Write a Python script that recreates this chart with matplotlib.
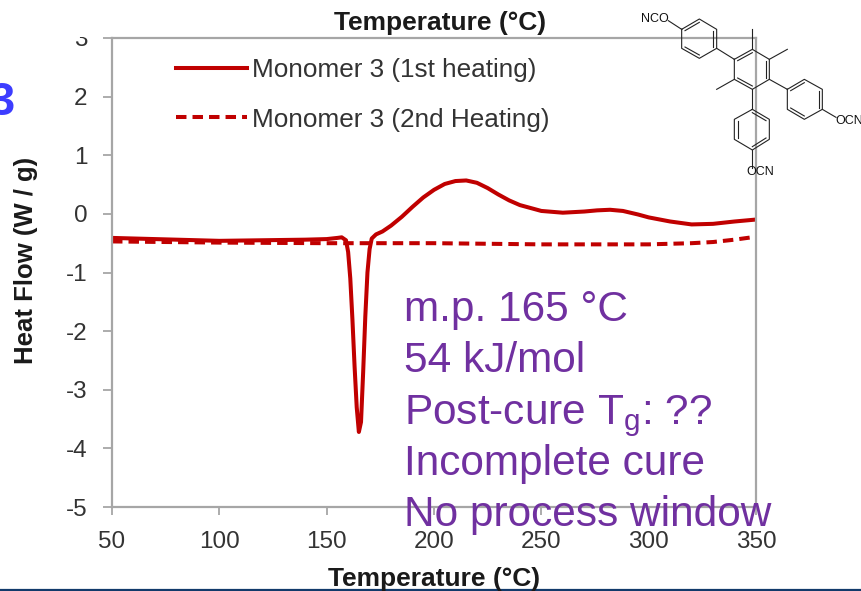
import matplotlib
matplotlib.use("Agg")
import matplotlib.pyplot as plt
from matplotlib.transforms import Bbox, TransformedBbox

plt.rcParams["font.family"] = ["Liberation Sans", "DejaVu Sans"]
plt.rcParams["mathtext.fontset"] = "custom"
plt.rcParams["mathtext.rm"] = "Liberation Sans"
plt.rcParams["axes.unicode_minus"] = False

# Values
temp_1st = [50, 60, 80, 100, 120, 140, 150, 155, 157, 159, 160, 161, 162, 163, 164, 165, 166, 167, 168, 169, 170,
            171, 173, 176, 180, 185, 190, 195, 200, 205, 210, 215, 220, 225, 230, 235, 240, 250, 260, 270, 276, 282,
            288, 295, 300, 310, 320, 330, 340, 349]
flow_1st = [-0.41, -0.42, -0.44, -0.46, -0.45, -0.44, -0.43, -0.41, -0.40, -0.45, -0.65, -1.1, -1.8, -2.6, -3.3, -3.72,
            -3.55, -2.7, -1.75, -1.0, -0.6, -0.42, -0.35, -0.30, -0.20, -0.05, 0.12, 0.28, 0.41, 0.51, 0.56, 0.57,
            0.53, 0.44, 0.33, 0.23, 0.15, 0.05, 0.02, 0.04, 0.06, 0.07, 0.05, -0.01, -0.06, -0.13, -0.18, -0.17,
            -0.13, -0.10]
temp_2nd = [50, 100, 150, 200, 250, 300, 320, 330, 340, 350]
flow_2nd = [-0.47, -0.49, -0.50, -0.50, -0.52, -0.52, -0.50, -0.48, -0.44, -0.39]
label_1st = "Monomer 3 (1st heating)"
label_2nd = "Monomer 3 (2nd Heating)"
x_ticks = [50, 100, 150, 200, 250, 300, 350]
y_ticks = [-5, -4, -3, -2, -1, 0, 1, 2, 3]
notes = ["m.p. 165 °C", "54 kJ/mol", "Post-cure T$_{\\mathrm{g}}$: ??", "Incomplete cure", "No process window"]
note_baselines = [321, 372, 424, 475, 526]

# Structure drawn in zoomed-crop pixels (crop origin 620,0, scale 3)
rings = [
    [(185, 88), (238, 57), (290, 88), (290, 145), (238, 175), (185, 145)],
    [(343, 178), (397, 148), (448, 178), (448, 238), (397, 268), (343, 238)],
    [(502, 268), (553, 238), (607, 268), (607, 328), (553, 358), (502, 328)],
    [(397, 328), (448, 358), (448, 418), (397, 450), (343, 418), (343, 358)],
]
bonds = [
    ((145, 62), (185, 88)), ((290, 145), (343, 178)), ((397, 148), (397, 88)), ((448, 178), (502, 148)),
    ((343, 238), (290, 268)), ((448, 238), (502, 268)), ((607, 328), (648, 352)), ((397, 268), (397, 328)),
    ((397, 450), (397, 505)),
]
inner_bonds = [
    ((195, 92), (238, 67)), ((280, 92), (280, 141)), ((195, 141), (238, 165)),
    ((353, 182), (397, 158)), ((438, 182), (438, 234)), ((353, 234), (397, 258)),
    ((512, 272), (553, 248)), ((597, 272), (597, 324)), ((512, 324), (553, 348)),
    ((397, 338), (438, 362)), ((438, 414), (397, 440)), ((353, 362), (353, 414)),
]

GREY = "#a6a6a6"
TEXT = "#333333"
RED = "#c00000"
PURPLE = "#7030a0"

fig = plt.figure(figsize=(8.61, 5.91), dpi=100)
ax = fig.add_axes([112 / 861, (591 - 507) / 591, (756 - 112) / 861, (507 - 38) / 591])

ax.plot(temp_1st, flow_1st, color=RED, lw=2.9, solid_joinstyle="round", label=label_1st)
ax.plot(temp_2nd, flow_2nd, color=RED, lw=2.9, ls=(0, (2.6, 1.5)), label=label_2nd)

ax.set_xlim(50, 350)
ax.set_ylim(-5, 3)
ax.set_xticks(x_ticks)
ax.set_yticks(y_ticks)
ax.tick_params(length=6.5, width=1.3, color=GREY, labelcolor=TEXT, labelsize=17.5, pad=11)
ax.tick_params(axis="x", length=6, pad=11)
for spine in ax.spines.values():
    spine.set_color(GREY)
    spine.set_linewidth(1.6)

# the "3" on the y axis is cut off at the top in the original
crop = TransformedBbox(Bbox([[0, 0], [1, (591 - 37) / 591]]), fig.transFigure)
for tick_label in ax.get_yticklabels():
    tick_label.set_clip_on(True)
    tick_label.set_clip_box(crop)

ax.legend(loc="upper left", bbox_to_anchor=((176 - 112) / 644, (507 - 58) / 469), frameon=False, fontsize=18.8,
          labelcolor=TEXT, handlelength=2.7, handletextpad=0.2, labelspacing=0.98, borderpad=0, borderaxespad=0)

# Overlay in picture pixels for the pasted-on slide items
over = fig.add_axes([0, 0, 1, 1], facecolor="none")
over.set_xlim(0, 861)
over.set_ylim(591, 0)
over.axis("off")

over.text(440, 23, "Temperature (°C)", ha="center", va="center", fontsize=19, fontweight="bold", color="#1a1a1a")
over.text(434, 579, "Temperature (°C)", ha="center", va="center", fontsize=19, fontweight="bold", color="#1a1a1a")
over.text(26, 260, "Heat Flow (W / g)", ha="center", va="center", rotation=90, fontsize=18.5, fontweight="bold",
          color="#1a1a1a")
over.text(15, 103, "3", ha="right", va="center", fontsize=34, fontweight="bold", color="#3d3dff")

for note, baseline in zip(notes, note_baselines):
    over.text(404, baseline, note, ha="left", va="baseline", fontsize=30.5, color=PURPLE)


def crop_xy(point):
    return 620 + point[0] / 3, point[1] / 3


for ring in rings:
    pts = [crop_xy(p) for p in ring + ring[:1]]
    over.plot([p[0] for p in pts], [p[1] for p in pts], color="#222222", lw=0.8)
for a, b in bonds + inner_bonds:
    a, b = crop_xy(a), crop_xy(b)
    over.plot([a[0], b[0]], [a[1], b[1]], color="#222222", lw=0.8)

over.text(*crop_xy((62, 57)), "NCO", ha="left", va="center", fontsize=9, color="#111111")
over.text(*crop_xy((645, 363)), "OCN", ha="left", va="center", fontsize=9, color="#111111")
over.text(*crop_xy((380, 516)), "OCN", ha="left", va="center", fontsize=9, color="#111111")

# slide footer rule
over.plot([0, 861], [590, 590], color="#123a6b", lw=1.6)

fig.savefig("out.png", dpi=100)
